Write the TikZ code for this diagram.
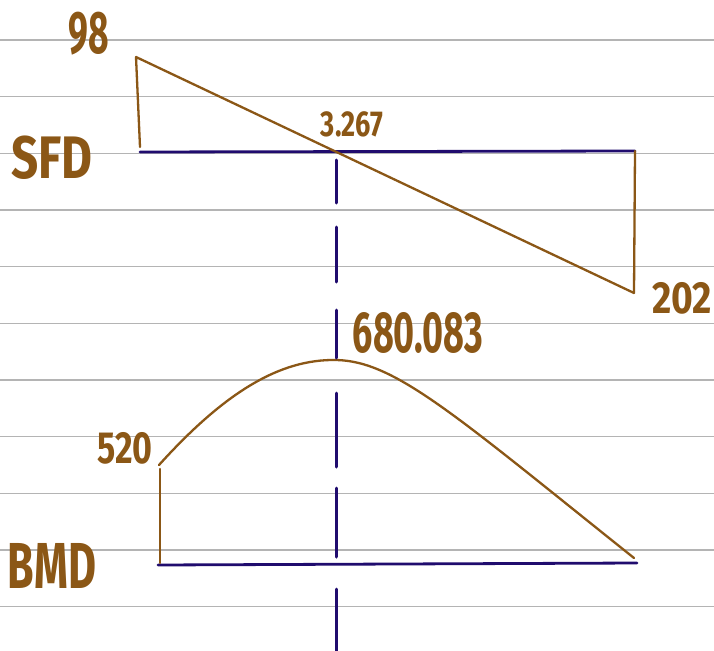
\documentclass[tikz,border=0pt]{standalone}
\usepackage{fontspec}
\setmainfont{Fira Sans}
\definecolor{pen}{RGB}{139,87,22}
\definecolor{ink}{RGB}{32,12,110}
\definecolor{rule}{RGB}{180,180,180}
\tikzset{
	paperline/.style={line width=1.4pt,rule},
	beam/.style={line width=2.8pt,ink},
	curve/.style={line width=2.3pt,pen},
	cut/.style={line width=3pt,ink},
	lbl/.style={text=pen,font=\bfseries,inner sep=0pt,xscale=0.72}
}
\begin{document}
\begin{tikzpicture}[x=1pt,y=-1pt,line join=round,line cap=round,declare function={gap = 56.67;}]
	\useasboundingbox[fill=white] (0,0) rectangle (714,650);
	\foreach \k in {0,...,10}{
		\draw[paperline] (0,40+gap*\k) -- (714,40+gap*\k); }
	
	% shear force
	\coordinate (sA) at (140,152);
	\coordinate (sB) at (635,151);
	\coordinate (sTop) at (136,57);
	\coordinate (sFoot) at (140,147);
	\coordinate (sBot) at (634,293);
	\draw[beam] (sA) -- (sB);
	\draw[curve] (sFoot) -- (sTop) -- (sBot) -- (sB);
	
	% bending moment
	\coordinate (bA) at (158,565);
	\coordinate (bB) at (637,563);
	\coordinate (bL) at (159,465);
	\coordinate (bFoot) at (160,469);
	\coordinate (bPk) at (336,360);
	\coordinate (bR) at (634,558);
	\draw[beam] (bA) -- (bB);
	\draw[curve] (bFoot) -- (160,563);
	\draw[curve] (bL) .. controls (225,392) and (280,359) .. (bPk) .. controls (395,361) and (455,415) .. (bR);
	
	\foreach \ya/\yb in {160/203,227/282,310/358,393/467,488/557,589/652}{
		\draw[cut] (336,\ya) -- (336,\yb); }
	
	\node[lbl,font=\bfseries\fontsize{60}{60}\selectfont,xscale=0.82] (vA) at (89,34) {98};
	\node[lbl,font=\bfseries\fontsize{36}{36}\selectfont,xscale=1.05] (vZ) at (352,124) {3.267};
	\node[lbl,font=\bfseries\fontsize{45}{45}\selectfont,xscale=1.15] (vB) at (682,298) {202};
	\node[lbl,font=\bfseries\fontsize{58}{58}\selectfont,xscale=0.86] (vM) at (418,333) {680.083};
	\node[lbl,font=\bfseries\fontsize{45}{45}\selectfont,xscale=1.05] (vL) at (125,448) {520};
	\node[lbl,font=\bfseries\fontsize{60}{60}\selectfont,xscale=1.1] (tS) at (52,158) {SFD};
	\node[lbl,font=\bfseries\fontsize{65}{65}\selectfont,xscale=0.92] (tB) at (52,566) {BMD};
\end{tikzpicture}
\end{document}
